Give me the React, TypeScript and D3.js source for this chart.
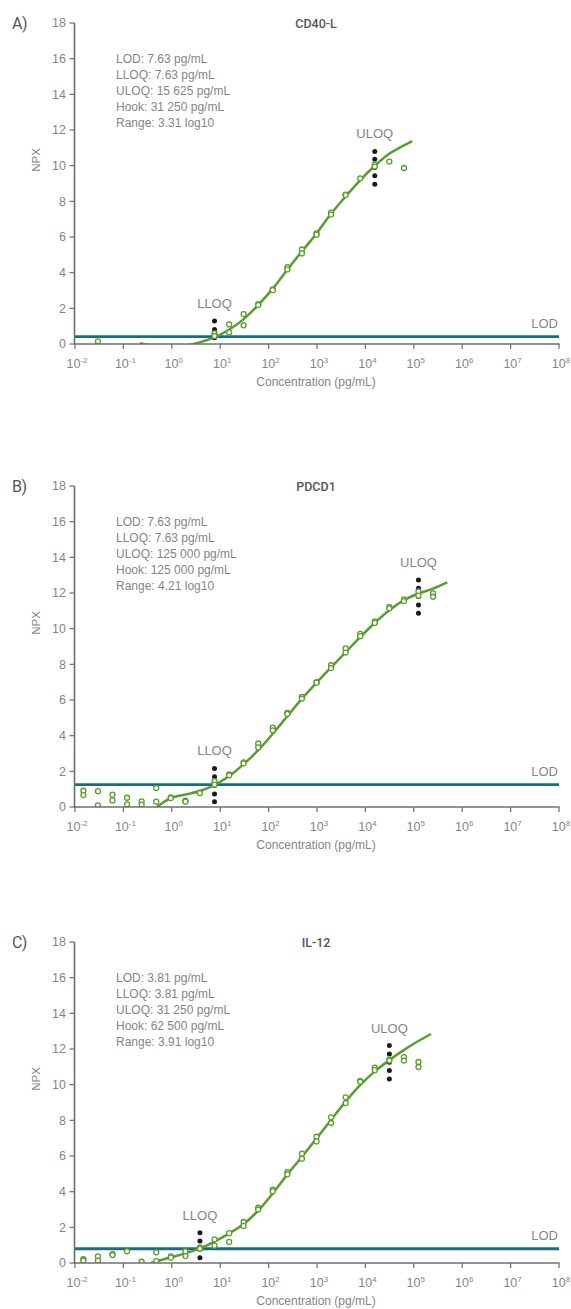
import React from "react";
import * as d3 from "d3";

// ---------- data ----------
const panelLetters = ["A)", "B)", "C)"];
const panelTitles = ["CD40-L", "PDCD1", "IL-12"];
const statsA = ["LOD: 7.63 pg/mL", "LLOQ: 7.63 pg/mL", "ULOQ: 15 625 pg/mL", "Hook: 31 250 pg/mL", "Range: 3.31 log10"];
const statsB = ["LOD: 7.63 pg/mL", "LLOQ: 7.63 pg/mL", "ULOQ: 125 000 pg/mL", "Hook: 125 000 pg/mL", "Range: 4.21 log10"];
const statsC = ["LOD: 3.81 pg/mL", "LLOQ: 3.81 pg/mL", "ULOQ: 31 250 pg/mL", "Hook: 62 500 pg/mL", "Range: 3.91 log10"];

const lodNPX = [0.41, 1.25, 0.8];
const lloqConc = [7.63, 7.63, 3.81];
const uloqConc = [15625, 125000, 31250];

const yTicks = [0, 2, 4, 6, 8, 10, 12, 14, 16, 18];
const xExponents = [-2, -1, 0, 1, 2, 3, 4, 5, 6, 7, 8];

// measured replicates: [concentration pg/mL, NPX]
const pointsA: [number, number][] = [
  [0.0298, 0.15],
  [7.63, 0.6], [7.63, 0.45],
  [15.3, 1.1], [15.3, 0.65],
  [30.5, 1.68], [30.5, 1.05],
  [61, 2.24], [61, 2.18],
  [122, 3.06], [122, 3.02],
  [244, 4.31], [244, 4.18],
  [488, 5.3], [488, 5.08],
  [977, 6.2], [977, 6.13],
  [1953, 7.37], [1953, 7.26],
  [3906, 8.38], [3906, 8.35],
  [7813, 9.29],
  [15625, 10.06], [15625, 9.95],
  [31250, 10.23],
  [62500, 9.87],
];
const pointsB: [number, number][] = [
  [0.0149, 0.91], [0.0149, 0.67],
  [0.0298, 0.89], [0.0298, 0.09],
  [0.0596, 0.69], [0.0596, 0.37],
  [0.119, 0.52], [0.119, 0.15],
  [0.238, 0.32], [0.238, 0.13],
  [0.477, 1.06], [0.477, 0.3],
  [0.954, 0.54], [0.954, 0.5],
  [1.91, 0.35], [1.91, 0.3],
  [3.81, 0.8], [3.81, 0.78],
  [7.63, 1.45], [7.63, 1.25],
  [15.3, 1.83], [15.3, 1.78],
  [30.5, 2.5], [30.5, 2.45],
  [61, 3.56], [61, 3.34],
  [122, 4.45], [122, 4.3],
  [244, 5.27], [244, 5.22],
  [488, 6.17], [488, 6.08],
  [977, 7.0], [977, 6.97],
  [1953, 7.95], [1953, 7.79],
  [3906, 8.89], [3906, 8.66],
  [7813, 9.71], [7813, 9.58],
  [15625, 10.41], [15625, 10.32],
  [31250, 11.22], [31250, 11.14],
  [62500, 11.64], [62500, 11.55],
  [125000, 12.09], [125000, 11.85],
  [250000, 11.98], [250000, 11.79],
];
const pointsC: [number, number][] = [
  [0.0149, 0.21], [0.0149, 0.14],
  [0.0298, 0.37], [0.0298, 0.13],
  [0.0596, 0.49], [0.0596, 0.45],
  [0.119, 0.66],
  [0.238, 0.07],
  [0.477, 0.6], [0.477, 0.11],
  [0.954, 0.37], [0.954, 0.3],
  [1.91, 0.66], [1.91, 0.39],
  [3.81, 0.88], [3.81, 0.8],
  [7.63, 1.33], [7.63, 0.97],
  [15.3, 1.67], [15.3, 1.18],
  [30.5, 2.3], [30.5, 2.08],
  [61, 3.1], [61, 3.0],
  [122, 4.11], [122, 4.02],
  [244, 5.09], [244, 4.97],
  [488, 6.13], [488, 5.85],
  [977, 7.08], [977, 6.82],
  [1953, 8.17], [1953, 7.85],
  [3906, 9.29], [3906, 8.97],
  [7813, 10.21], [7813, 10.17],
  [15625, 10.95], [15625, 10.81],
  [31250, 11.42], [31250, 11.35],
  [62500, 11.55], [62500, 11.35],
  [125000, 11.27], [125000, 10.99],
];

// LLOQ / ULOQ replicate markers (NPX)
const lloqDotsA = [1.29, 0.82, 0.35];
const uloqDotsA = [10.8, 10.36, 9.9, 9.43, 8.96];
const lloqDotsB = [2.16, 1.7, 1.2, 0.73, 0.3];
const uloqDotsB = [12.73, 12.26, 11.8, 11.33, 10.86];
const lloqDotsC = [1.7, 1.23, 0.77, 0.3];
const uloqDotsC = [12.19, 11.72, 11.26, 10.79, 10.32];

// fitted curves: [log10 concentration, NPX]
const fitA: [number, number][] = [
  [-0.66, 0.05], [-0.3, -0.12], [0.15, -0.15], [0.45, 0.0], [0.88, 0.37], [1.18, 0.8],
  [1.48, 1.38], [1.79, 2.2], [2.09, 3.12], [2.39, 4.18], [2.69, 5.2], [2.99, 6.2],
  [3.29, 7.3], [3.59, 8.27], [3.89, 9.18], [4.19, 9.98], [4.5, 10.68], [4.97, 11.38],
];
const fitB: [number, number][] = [
  [-0.31, 0.0], [-0.02, 0.5], [0.28, 0.7], [0.58, 0.9], [0.88, 1.23], [1.18, 1.72],
  [1.48, 2.39], [1.79, 3.2], [2.09, 4.12], [2.39, 5.1], [2.69, 6.08], [2.99, 6.97],
  [3.29, 7.83], [3.59, 8.67], [3.89, 9.52], [4.19, 10.32], [4.5, 11.05], [4.8, 11.6],
  [5.1, 11.97], [5.4, 12.25], [5.69, 12.6],
];
const fitC: [number, number][] = [
  [-0.43, 0.0], [-0.02, 0.32], [0.28, 0.54], [0.58, 0.82], [0.88, 1.2], [1.18, 1.65],
  [1.48, 2.17], [1.79, 2.95], [2.09, 3.92], [2.39, 4.97], [2.69, 5.96], [2.99, 6.99],
  [3.29, 8.02], [3.59, 9.05], [3.89, 9.98], [4.19, 10.73], [4.5, 11.39], [4.8, 11.95],
  [4.99, 12.28], [5.355, 12.84],
];

const statsList = [statsA, statsB, statsC];
const pointsList = [pointsA, pointsB, pointsC];
const lloqDotsList = [lloqDotsA, lloqDotsB, lloqDotsC];
const uloqDotsList = [uloqDotsA, uloqDotsB, uloqDotsC];
const fitList = [fitA, fitB, fitC];

// ---------- layout ----------
const W = 571;
const H = 1309;
const panelTops = [23, 486, 942];
const plotH = 321;
const xLeft = 75;
const xRight = 559;

const GREEN = "#5a9c2e";
const TEAL = "#1a6b80";
const AXIS = "#6e6e6e";
const TXT = "#858585";
const FONT = "'Liberation Sans', Arial, sans-serif";

function supText(e: number) {
  return e < 0 ? "-" + Math.abs(e) : String(e);
}

function Panel({ i }: { i: number }) {
  const top = panelTops[i];
  const bottom = top + plotH;
  const x = d3.scaleLog().domain([1e-2, 1e8]).range([xLeft, xRight]);
  const y = d3.scaleLinear().domain([0, 18]).range([bottom, top]);
  const line = d3
    .line<[number, number]>()
    .x((d) => x(Math.pow(10, d[0])))
    .y((d) => y(d[1]))
    .curve(d3.curveCatmullRom.alpha(0.5));
  const clipId = "clip" + i;
  const lodY = y(lodNPX[i]);
  const lx = x(lloqConc[i]);
  const ux = x(uloqConc[i]);
  const lDots = lloqDotsList[i];
  const uDots = uloqDotsList[i];
  return (
    <g>
      <defs>
        <clipPath id={clipId}>
          <rect x={xLeft - 5} y={top - 10} width={xRight - xLeft + 10} height={plotH + 10} />
        </clipPath>
      </defs>
      <text x={12} y={top + 6} fontSize={16} fill="#555" fontFamily="'Roboto', sans-serif" style={{ letterSpacing: "-0.5px" }}>
        {panelLetters[i]}
      </text>
      <text x={316} y={top + 4.5} fontSize={12.5} fill="#555" fontWeight={500} textAnchor="middle" fontFamily="'Roboto', sans-serif">
        {panelTitles[i]}
      </text>
      {statsList[i].map((s, k) => (
        <text key={k} x={116} y={top + 40 + k * 16} fontSize={12} fill={TXT} fontFamily={FONT}>
          {s}
        </text>
      ))}
      <text
        transform={`translate(40,${top + 137}) rotate(-90)`}
        fontSize={11.5}
        fill={TXT}
        textAnchor="middle"
        fontFamily={FONT}
      >
        NPX
      </text>
      <line x1={xLeft} x2={xRight} y1={lodY} y2={lodY} stroke={TEAL} strokeWidth={2.8} />
      <text x={xRight - 1} y={lodY - 9} fontSize={13} fill={TXT} textAnchor="end" fontFamily={FONT}>
        LOD
      </text>
      <g clipPath={`url(#${clipId})`}>
        <path d={line(fitList[i]) || ""} fill="none" stroke={GREEN} strokeWidth={2.5} />
        {lDots.map((v, k) => (
          <circle key={"l" + k} cx={lx} cy={y(v)} r={2.5} fill="#1a1a1a" />
        ))}
        {uDots.map((v, k) => (
          <circle key={"u" + k} cx={ux} cy={y(v)} r={2.5} fill="#1a1a1a" />
        ))}
        {pointsList[i].map((p, k) => (
          <circle key={k} cx={x(p[0])} cy={y(p[1])} r={2.5} fill="white" stroke={GREEN} strokeWidth={1.3} />
        ))}
      </g>
      <text x={lx} y={y(d3.max(lDots) as number) - 13} fontSize={13} fill={TXT} textAnchor="middle" fontFamily={FONT}>
        LLOQ
      </text>
      <text x={ux} y={y(d3.max(uDots) as number) - 13} fontSize={13} fill={TXT} textAnchor="middle" fontFamily={FONT}>
        ULOQ
      </text>
      <line x1={xLeft - 0.5} x2={xLeft - 0.5} y1={top} y2={bottom} stroke={AXIS} strokeWidth={1.6} />
      <line x1={xLeft - 1.3} x2={xRight + 0.5} y1={bottom} y2={bottom} stroke={AXIS} strokeWidth={1.6} />
      {yTicks.map((t) => (
        <g key={"y" + t}>
          <line x1={xLeft - 5.5} x2={xLeft - 0.5} y1={y(t)} y2={y(t)} stroke={AXIS} strokeWidth={1.2} />
          <text x={xLeft - 9} y={y(t)} dy="0.35em" fontSize={12.5} fill={TXT} textAnchor="end" fontFamily={FONT}>
            {t}
          </text>
        </g>
      ))}
      {xExponents.map((e) => (
        <g key={"x" + e}>
          <line x1={x(Math.pow(10, e))} x2={x(Math.pow(10, e))} y1={bottom} y2={bottom + 5} stroke={AXIS} strokeWidth={1.2} />
          <text x={x(Math.pow(10, e)) + 2} y={bottom + 24} fontSize={12.5} fill={TXT} textAnchor="middle" fontFamily={FONT}>
            10
            <tspan dy={-5} fontSize={8}>
              {supText(e)}
            </tspan>
          </text>
        </g>
      ))}
      <text x={316} y={bottom + 42} fontSize={12} fill={TXT} textAnchor="middle" fontFamily={FONT}>
        Concentration (pg/mL)
      </text>
    </g>
  );
}

export default function App() {
  return (
    <svg
      width={W}
      height={H}
      viewBox={`0 0 ${W} ${H}`}
      style={{ position: "absolute", left: 0, top: 0, background: "white" }}
    >
      <rect x={0} y={0} width={W} height={H} fill="white" />
      {[0, 1, 2].map((i) => (
        <Panel key={i} i={i} />
      ))}
    </svg>
  );
}
